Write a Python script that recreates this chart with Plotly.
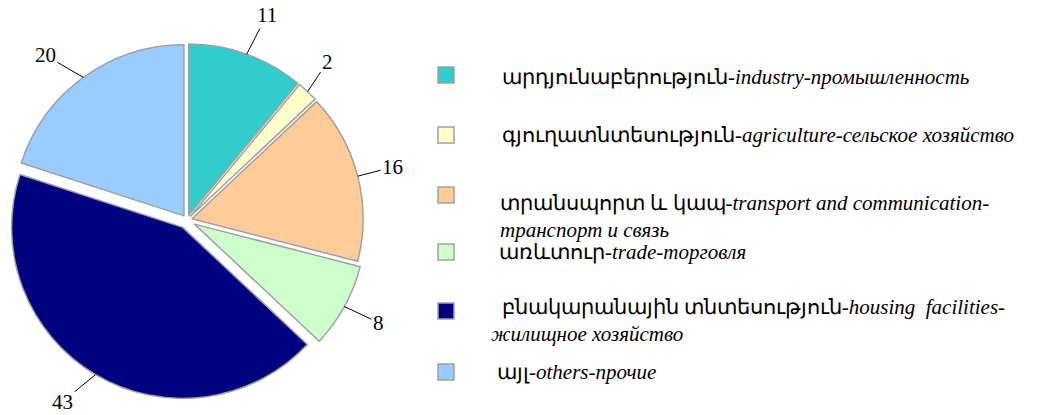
import math
import plotly.graph_objects as go

W, H = 1050, 415

# ---- data ----
values = [11, 2, 16, 8, 43, 20]
label_arm = ["արդյունաբերություն-", "գյուղատնտեսություն-", "տրանսպորտ և կապ-",
             "առևտուր-", "\u00a0\u00a0բնակարանային տնտեսություն-", "այլ-"]
label_it = ["industry-промышленность", "agriculture-сельское хозяйство",
            "transport and communication-<br>транспорт и связь", "trade-торговля",
            "housing\u00a0 facilities-<br>жилищное хозяйство", "others-прочие"]
short = ["industry", "agriculture", "transport", "trade", "housing", "others"]

# ---- styles ----
colors = ["#33CCCC", "#FFFFCC", "#FFCC99", "#CCFFCC", "#000080", "#99CCFF"]
pulls = [0.03, 0.03, 0.03, 0.05, 0.05, 0.03]
FONT = "Liberation Serif"
EDGE = "#A0A0A0"

# pie box in pixels (left, right, top, bottom)
dom_x = [7.4, 366.6]
dom_y = [40.4, 399.6]
# label text offsets from slice edge (px)
lab_off = [(20, -39), (20, -30), (35, -9), (34, 16), (-33, 27), (-38, -22)]

fig = go.Figure(go.Pie(
    values=values,
    labels=short,
    sort=False,
    direction="clockwise",
    rotation=0,
    pull=pulls,
    marker=dict(colors=colors, line=dict(color=EDGE, width=1.5)),
    textinfo="none",
    showlegend=False,
    hoverinfo="label+value",
    domain=dict(x=[dom_x[0] / W, dom_x[1] / W], y=[1 - dom_y[1] / H, 1 - dom_y[0] / H]),
))

# geometry of the pie as plotly lays it out
cx = (dom_x[0] + dom_x[1]) / 2
cy = (dom_y[0] + dom_y[1]) / 2
r = min(dom_x[1] - dom_x[0], dom_y[1] - dom_y[0]) / 2 / (1 + max(pulls))
total = sum(values)

annotations = []
cum = 0
for i, v in enumerate(values):
    mid = (cum + v / 2) / total * 2 * math.pi
    cum += v
    R = r * (1 + pulls[i])
    px = cx + R * math.sin(mid)
    py = cy - R * math.cos(mid)
    annotations.append(dict(
        xref="paper", yref="paper", x=px / W, y=1 - py / H,
        ax=lab_off[i][0], ay=lab_off[i][1], axref="pixel", ayref="pixel",
        text=str(v), showarrow=True, arrowhead=0, arrowwidth=1, arrowcolor="black",
        standoff=0, startstandoff=0,
        font=dict(family=FONT, size=21, color="black"),
    ))

# manual legend layout (pixel positions)
sq_y = [75, 135, 195, 252, 311, 372]
tx_y = [77, 135, 203, 252, 307, 372]
tx_x = [500, 500, 498, 497, 489, 495]
sq_x0, sq_size = 438, 16
line_gap = 27.3

shapes = []
for i in range(len(values)):
    y0 = sq_y[i] - sq_size / 2
    shapes.append(dict(
        type="rect", xref="paper", yref="paper",
        x0=sq_x0 / W, x1=(sq_x0 + sq_size) / W,
        y0=1 - (y0 + sq_size) / H, y1=1 - y0 / H,
        fillcolor=colors[i], line=dict(color=EDGE, width=1.5),
    ))
    nlines = label_it[i].count("<br>") + 1
    ymid = tx_y[i] + (nlines - 1) * line_gap / 2
    annotations.append(dict(
        xref="paper", yref="paper", x=tx_x[i] / W, y=1 - ymid / H,
        xanchor="left", yanchor="middle", align="left", showarrow=False,
        text=label_arm[i] + "<i>" + label_it[i].replace("<br>", "</i><br><i>") + "</i>",
        font=dict(family=FONT, size=21, color="black"),
    ))

fig.update_layout(
    width=W, height=H,
    margin=dict(l=0, r=0, t=0, b=0, autoexpand=False),
    paper_bgcolor="white", plot_bgcolor="white",
    shapes=shapes, annotations=annotations,
)

fig.write_html("out.html", post_script="document.body.style.margin='0';",
               config={"displayModeBar": False})
